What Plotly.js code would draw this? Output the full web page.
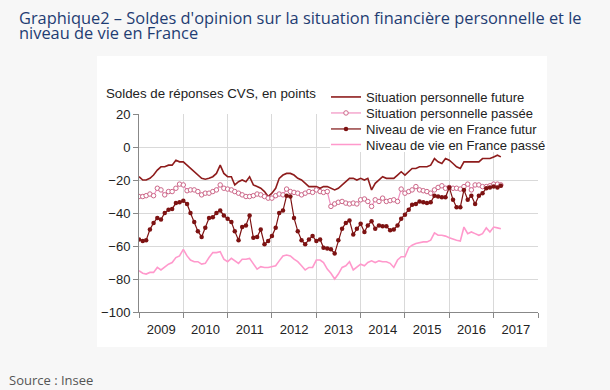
<!DOCTYPE html>
<html>
<head>
<meta charset="utf-8">
<script src="https://cdn.plot.ly/plotly-3.0.1.min.js"></script>
<style>html,body{margin:0;padding:0;background:#f7f7f7;}#chart{width:610px;height:390px;}</style>
</head>
<body>
<div id="chart"></div>
<script>
// Monthly data, January 2009 to March 2017
const startYear = 2009;
const seriesNames = [
  "Situation personnelle future",
  "Situation personnelle passée",
  "Niveau de vie en France futur",
  "Niveau de vie en France passé"
];
const persoFuture = [-18,-20,-20,-19,-17,-14,-12,-12,-11,-11,-8,-9,
  -9,-11,-13,-15,-17,-19,-19.5,-19,-18,-16,-11,-16,
  -18,-18,-23,-21,-20,-21,-18,-23,-24,-25,-27,-30,
  -28,-25,-19,-17,-16,-16,-17,-19,-20,-22,-24,-24,
  -24,-25,-24,-24,-25,-26,-25,-23,-21,-19,-19,-20,
  -19,-20,-19,-26,-22,-20,-18,-19,-19,-19,-17,-15,
  -17,-15,-13,-13,-12,-12,-12,-11,-7,-9,-10,-7,
  -8,-10,-12,-13,-9,-9,-9,-9,-9,-7,-7,-7,
  -6,-5,-6];
const persoPassee = [-30,-30,-29.5,-28.5,-29.5,-25,-26,-29,-27,-27,-25,-22.5,
  -23,-26.5,-26,-26,-27,-29,-28,-28,-27,-26,-23,-25,
  -25.5,-26,-27,-28,-29,-30,-30,-29.5,-28.5,-29,-30,-31,
  -31,-29.5,-28.5,-29,-25.5,-27,-27.5,-28,-29,-28,-27,-27.5,
  -26,-27,-27.5,-27,-36,-34.5,-33.5,-33,-34,-34.5,-34,-34.5,
  -32,-31.5,-33,-36,-32,-33,-31,-33,-32.5,-32,-33,-25.5,
  -28,-27,-26,-24,-26,-26.5,-27,-28,-26,-24.5,-23.5,-25,
  -24.5,-25,-25,-25.5,-24,-22.5,-26,-23,-23,-24,-24,-23.5,
  -22.5,-22.5,-23];
const niveauFutur = [-56,-57,-56.5,-50,-46,-43,-44,-40,-38,-37.5,-34,-33.5,
  -32.5,-34.5,-40,-45.5,-51,-54.5,-49,-43,-42.5,-40,-38.5,-41.5,
  -43.5,-45.5,-51,-56.5,-48.5,-47.5,-41.5,-55,-54.5,-50,-59,-57,
  -54,-49,-40,-38.5,-29.5,-30,-43,-51,-56.5,-59,-56,-54,
  -57,-56,-61,-61.5,-62,-64.5,-56.5,-49.5,-46,-44.5,-53,-49.5,
  -46.5,-51.5,-47.5,-45,-49.5,-47.5,-48,-48,-50.5,-50,-47.5,-43.5,
  -41,-38,-35,-34.5,-33,-33.5,-34,-33.5,-29.5,-30,-30.5,-30.5,
  -24.5,-32,-36.5,-36.5,-26,-32,-29.5,-34.5,-29.5,-28,-25,-24.5,
  -24,-24.5,-23.5];
const niveauPasse = [-75,-76.5,-77,-76,-76,-73,-74.5,-72.5,-71,-70,-67,-66,
  -62,-66,-68.5,-69.5,-69.5,-71,-70.5,-67,-64,-64,-63.5,-68,
  -69.5,-67.5,-69,-70.5,-68,-68,-67.5,-70.5,-74,-72.5,-73,-73,
  -72.5,-72,-69,-66,-65.5,-66,-68,-69.5,-72,-74.5,-73,-73,
  -68.5,-68.5,-70,-74,-76.5,-80,-77,-73,-72,-69.5,-74.5,-73,
  -71,-72,-70,-69,-70,-69,-69.5,-69.5,-70.5,-73,-68.5,-66.5,
  -66.5,-61,-59.5,-58.5,-58,-57.5,-57.5,-56.5,-52,-53.5,-53.5,-54,
  -55,-56,-56.5,-57,-48.5,-52.5,-51.5,-52.5,-53.5,-52.5,-49,-51.5,
  -48.5,-49,-49.5];
const yTickVals = [20,0,-20,-40,-60,-80,-100];

// month dates
const months = persoFuture.map((_, i) => {
  const y = startYear + Math.floor(i / 12);
  const m = (i % 12) + 1;
  return y + "-" + (m < 10 ? "0" + m : m) + "-01";
});

const L = 139, R = 72, T = 114, B = 78;
const W = 610 - L - R, H = 390 - T - B;
const px = v => (v - L) / W;
const py = v => (390 - B - v) / H;

const traces = [
  {x: months, y: persoFuture, name: seriesNames[0], type: "scatter", mode: "lines",
   legend: "legend", line: {color: "#8e1c1c", width: 1.6}},
  {x: months, y: persoPassee, name: seriesNames[1], type: "scatter", mode: "lines+markers",
   legend: "legend2", line: {color: "#f291c2", width: 1.2},
   marker: {symbol: "circle", size: 4.5, color: "#ffffff", line: {color: "#cc6688", width: 1}}},
  {x: months, y: niveauFutur, name: seriesNames[2], type: "scatter", mode: "lines+markers",
   legend: "legend3", line: {color: "#7d1212", width: 1.2},
   marker: {symbol: "circle", size: 4.5, color: "#7d1212"}},
  {x: months, y: niveauPasse, name: seriesNames[3], type: "scatter", mode: "lines",
   legend: "legend4", line: {color: "#ff99cc", width: 1.6}}
];

const legendRows = [97, 113, 129, 144.5];
function legendAt(row) {
  return {
    x: px(326), y: py(row), xanchor: "left", yanchor: "middle",
    bgcolor: "rgba(0,0,0,0)", borderwidth: 0,
    font: {size: 13, color: "#222"}, itemwidth: 30
  };
}

const layout = {
  width: 610, height: 390,
  paper_bgcolor: "#f7f7f7",
  plot_bgcolor: "#ffffff",
  margin: {l: L, r: R, t: T, b: B, pad: 0},
  showlegend: true,
  font: {family: "Liberation Sans, Arial, sans-serif", size: 13, color: "#222"},
  xaxis: {
    type: "date", range: ["2009-01-01", "2018-01-01"],
    tick0: "2009-01-01", dtick: "M12", tickformat: "%Y", ticklabelmode: "period",
    ticks: "outside", ticklen: 5, tickcolor: "#888", tickwidth: 1,
    showline: true, linecolor: "#888", linewidth: 1,
    showgrid: true, gridcolor: "#d9d9d9", gridwidth: 1,
    zeroline: false, tickfont: {size: 13, color: "#222"}, fixedrange: true
  },
  yaxis: {
    range: [-100, 20], tickvals: yTickVals,
    ticks: "outside", ticklen: 5, tickcolor: "#888", tickwidth: 1,
    showline: true, linecolor: "#888", linewidth: 1,
    showgrid: true, gridcolor: "#d9d9d9", gridwidth: 1,
    zeroline: false, tickfont: {size: 13, color: "#222"}, fixedrange: true
  },
  legend: legendAt(legendRows[0]),
  legend2: legendAt(legendRows[1]),
  legend3: legendAt(legendRows[2]),
  legend4: legendAt(legendRows[3]),
  shapes: [
    {type: "rect", xref: "paper", yref: "paper", layer: "below",
     x0: px(97), x1: px(547), y0: py(347), y1: py(56),
     fillcolor: "#ffffff", line: {width: 0}},
    {type: "rect", xref: "paper", yref: "paper", layer: "above",
     x0: px(330), x1: px(547), y0: py(152), y1: py(88),
     fillcolor: "#ffffff", line: {width: 0}}
  ],
  annotations: [
    {text: "Graphique2 – Soldes d'opinion sur la situation financière personnelle et le",
     xref: "paper", yref: "paper", x: px(17), y: py(17), xanchor: "left", yanchor: "middle",
     showarrow: false, font: {family: "Open Sans", size: 16.4, color: "#1f3d73"}},
    {text: "niveau de vie en France",
     xref: "paper", yref: "paper", x: px(17), y: py(32), xanchor: "left", yanchor: "middle",
     showarrow: false, font: {family: "Open Sans", size: 16.4, color: "#1f3d73"}},
    {text: "Soldes de réponses CVS, en points", xref: "paper", yref: "paper",
     x: px(104), y: py(93), xanchor: "left", yanchor: "middle", showarrow: false,
     font: {size: 13.3, color: "#222"}},
    {text: "Source : Insee", xref: "paper", yref: "paper",
     x: px(7), y: py(380), xanchor: "left", yanchor: "middle", showarrow: false,
     font: {family: "Open Sans", size: 13, color: "#555"}}
  ]
};

Plotly.newPlot("chart", traces, layout, {displayModeBar: false, staticPlot: true});
</script>
</body>
</html>
